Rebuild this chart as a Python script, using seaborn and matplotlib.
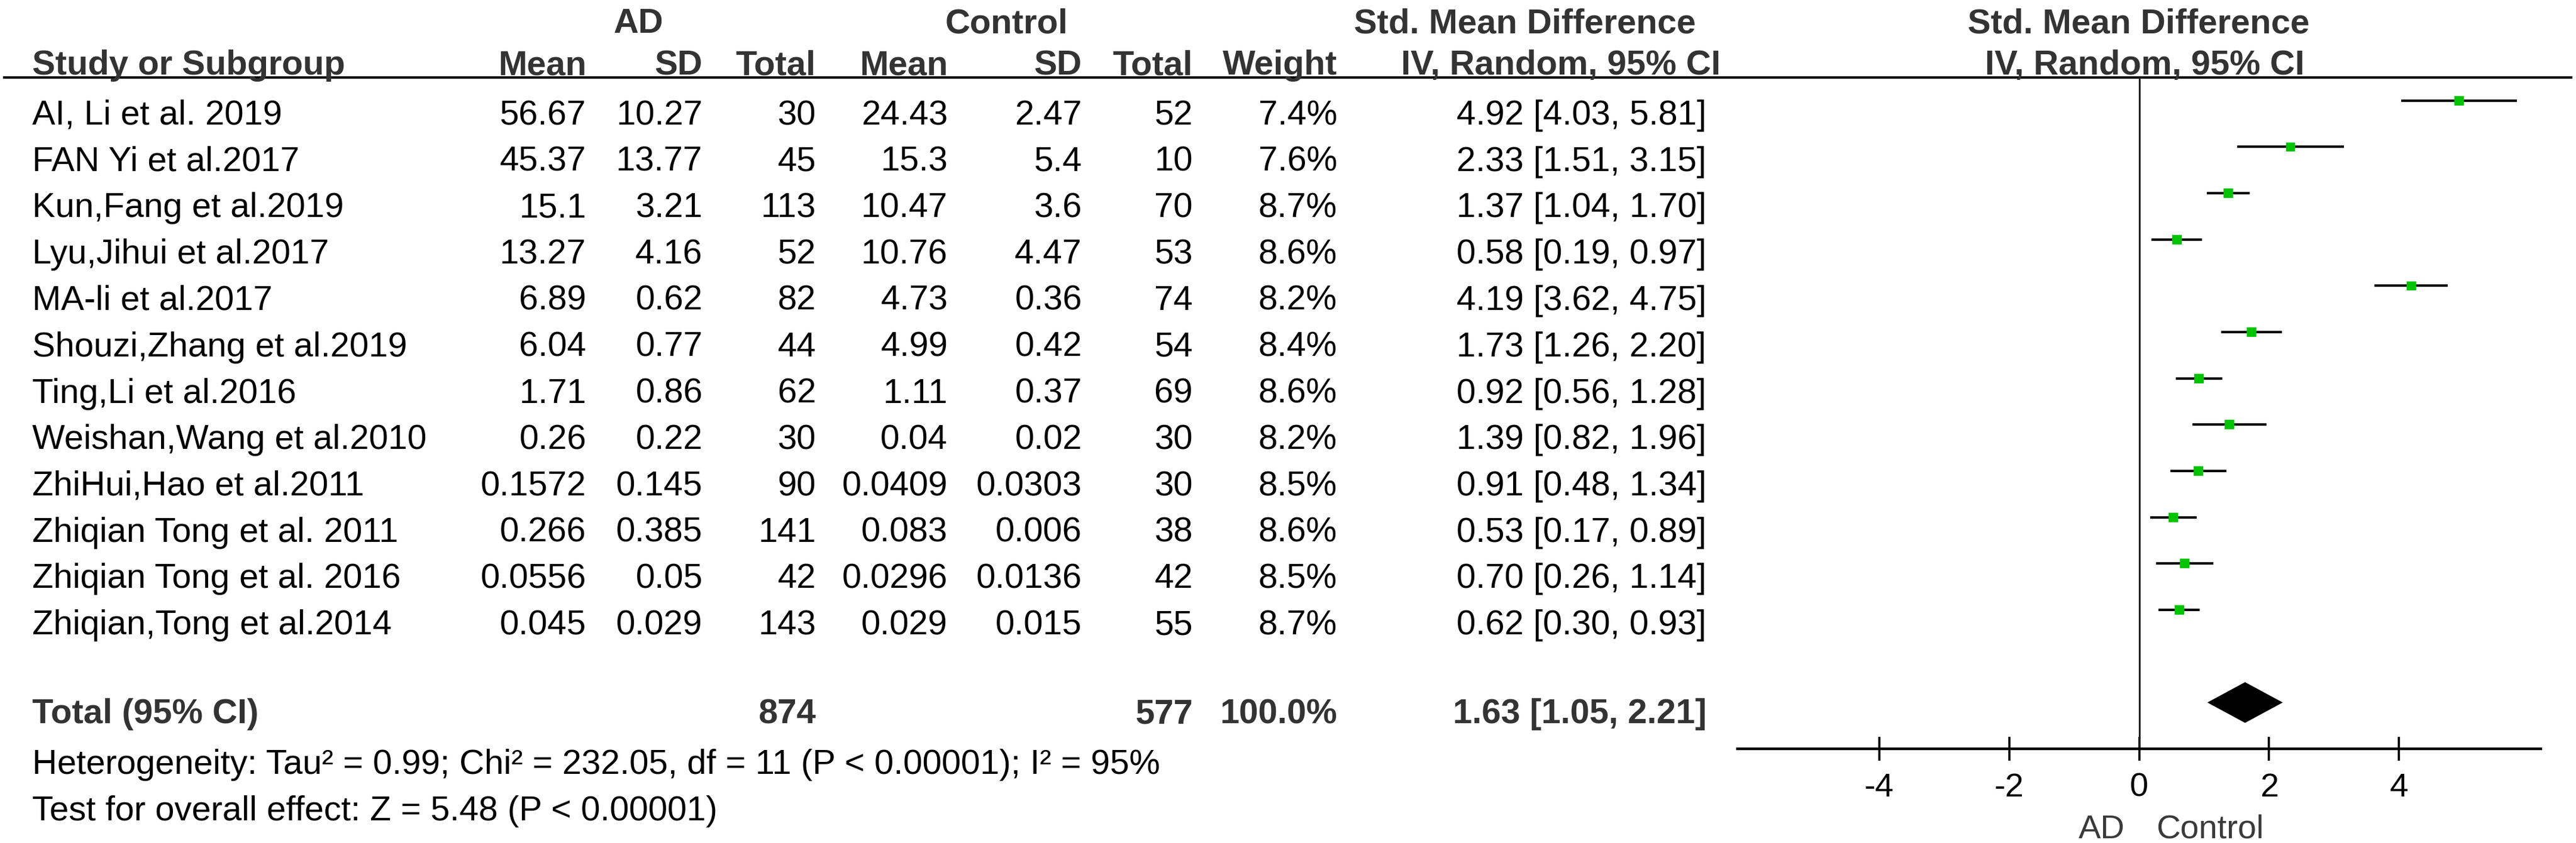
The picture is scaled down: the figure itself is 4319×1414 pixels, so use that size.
"""
Forest plot: standardised mean difference, AD vs Control.
"""
import matplotlib

matplotlib.use("Agg")
import matplotlib.pyplot as plt
import matplotlib.transforms as mtransforms
import pandas as pd
import seaborn as sns

# Data
STUDIES = [
    "AI, Li et al. 2019",
    "FAN Yi et al.2017",
    "Kun,Fang et al.2019",
    "Lyu,Jihui et al.2017",
    "MA-li et al.2017",
    "Shouzi,Zhang et al.2019",
    "Ting,Li et al.2016",
    "Weishan,Wang et al.2010",
    "ZhiHui,Hao et al.2011",
    "Zhiqian Tong et al. 2011",
    "Zhiqian Tong et al. 2016",
    "Zhiqian,Tong et al.2014",
]
AD_MEAN = [56.67, 45.37, 15.1, 13.27, 6.89, 6.04, 1.71, 0.26, 0.1572, 0.266,
           0.0556, 0.045]
AD_SD = [10.27, 13.77, 3.21, 4.16, 0.62, 0.77, 0.86, 0.22, 0.145, 0.385,
         0.05, 0.029]
AD_N = [30, 45, 113, 52, 82, 44, 62, 30, 90, 141, 42, 143]
CTL_MEAN = [24.43, 15.3, 10.47, 10.76, 4.73, 4.99, 1.11, 0.04, 0.0409, 0.083,
            0.0296, 0.029]
CTL_SD = [2.47, 5.4, 3.6, 4.47, 0.36, 0.42, 0.37, 0.02, 0.0303, 0.006,
          0.0136, 0.015]
CTL_N = [52, 10, 70, 53, 74, 54, 69, 30, 30, 38, 42, 55]
WEIGHT = [7.4, 7.6, 8.7, 8.6, 8.2, 8.4, 8.6, 8.2, 8.5, 8.6, 8.5, 8.7]
SMD = [4.92, 2.33, 1.37, 0.58, 4.19, 1.73, 0.92, 1.39, 0.91, 0.53, 0.70, 0.62]
CI_LO = [4.03, 1.51, 1.04, 0.19, 3.62, 1.26, 0.56, 0.82, 0.48, 0.17, 0.26,
         0.30]
CI_HI = [5.81, 3.15, 1.70, 0.97, 4.75, 2.20, 1.28, 1.96, 1.34, 0.89, 1.14,
         0.93]
TOTAL_WEIGHT = 100.0
POOLED = [1.63, 1.05, 2.21]
TICKS = [-4, -2, 0, 2, 4]
HETEROGENEITY = (
    "Heterogeneity: Tau\u00b2 = 0.99; Chi\u00b2 = 232.05, df = 11"
    " (P < 0.00001); I\u00b2 = 95%"
)
OVERALL = "Test for overall effect: Z = 5.48 (P < 0.00001)"

data = pd.DataFrame(
    {
        "study": STUDIES,
        "row": range(len(STUDIES)),
        "smd": SMD,
        "lo": CI_LO,
        "hi": CI_HI,
    }
)
total_row = len(STUDIES) + 1

# Layout (pixels)
W, H, DPI = 4319, 1414, 100
FS = 41.8
ROW0, ROW_H = 209, 77.75
HEAD = "#333333"

sns.set_theme(style="white")
plt.rcParams["font.family"] = ["Liberation Sans", "DejaVu Sans"]

fig = plt.figure(figsize=(W / DPI, H / DPI), dpi=DPI)
bg = fig.add_axes([0, 0, 1, 1])
bg.set_xlim(0, W)
bg.set_ylim(H, 0)
bg.axis("off")


def txt(x, y, s, ha="right", bold=False, color="black"):
    bg.text(
        x, y, s, ha=ha, va="baseline", fontsize=FS, color=color,
        fontweight="bold" if bold else "normal",
    )


# Header
for x, s in [(1070, "AD"), (1688, "Control"), (2557, "Std. Mean Difference"),
             (3586, "Std. Mean Difference")]:
    txt(x, 55, s, ha="center", bold=True, color=HEAD)
txt(54, 125, "Study or Subgroup", ha="left", bold=True, color=HEAD)
for x, s in [(983, "Mean"), (1178, "SD"), (1368, "Total"), (1589, "Mean"),
             (1814, "SD"), (2000, "Total"), (2242, "Weight")]:
    txt(x, 125, s, bold=True, color=HEAD)
txt(2617, 125, "IV, Random, 95% CI", ha="center", bold=True, color=HEAD)
txt(3596, 125, "IV, Random, 95% CI", ha="center", bold=True, color=HEAD)
bg.plot([5, 4313], [130, 130], color="black", lw=3.0, solid_capstyle="butt")

# Study rows
cols = [(983, AD_MEAN), (1178, AD_SD), (1368, AD_N), (1589, CTL_MEAN),
        (1814, CTL_SD), (2000, CTL_N)]
for i, name in enumerate(STUDIES):
    y = ROW0 + ROW_H * i
    txt(54, y, name, ha="left")
    for x, vals in cols:
        txt(x, y, f"{vals[i]}")
    txt(2242, y, f"{WEIGHT[i]:.1f}%")
    txt(2861, y, f"{SMD[i]:.2f} [{CI_LO[i]:.2f}, {CI_HI[i]:.2f}]")

# Total row and footer
y = 1213
txt(54, y, "Total (95% CI)", ha="left", bold=True, color=HEAD)
txt(1368, y, f"{sum(AD_N)}", bold=True, color=HEAD)
txt(2000, y, f"{sum(CTL_N)}", bold=True, color=HEAD)
txt(2242, y, f"{TOTAL_WEIGHT:.1f}%", bold=True, color=HEAD)
txt(2861, y, f"{POOLED[0]:.2f} [{POOLED[1]:.2f}, {POOLED[2]:.2f}]",
    bold=True, color=HEAD)
txt(54, 1298, HETEROGENEITY, ha="left")
txt(54, 1376, OVERALL, ha="left")

# Forest panel
left, right, top, bottom = 2913, 4260, 130, 1256
ax = fig.add_axes(
    [left / W, 1 - bottom / H, (right - left) / W, (bottom - top) / H]
)
ax.set_xlim(-6.18, 6.18)
ax.set_ylim(total_row + 1, -0.5)
ax.patch.set_alpha(0)
for side in ["top", "right", "left"]:
    ax.spines[side].set_visible(False)
ax.spines["bottom"].set_linewidth(3.2)
ax.spines["bottom"].set_color("black")
ax.axvline(0, color="#222222", lw=2.2, zorder=1)

ax.hlines(data["row"], data["lo"], data["hi"], color="black", lw=3.0,
          zorder=2)
sns.scatterplot(
    data=data, x="smd", y="row", marker="s", s=130, color="#00c400",
    edgecolor="none", linewidth=0, ax=ax, zorder=3, legend=False,
)
est, lo, hi = POOLED
ax.fill(
    [lo, est, hi, est], [total_row, total_row - 0.44, total_row,
                         total_row + 0.44],
    color="black", lw=0, zorder=3,
)

ax.set_xticks(TICKS)
ax.set_xticklabels([str(t) for t in TICKS])
ax.set_yticks([])
ax.tick_params(axis="x", direction="inout", length=29, width=2.6,
               color="black", labelsize=40.3, pad=14, labelcolor="black",
               bottom=True)
ax.set_xlabel("")
ax.set_ylabel("")

# Direction labels under the axis
trans = mtransforms.blended_transform_factory(ax.transData, bg.transData)
ax.text(-0.22, 1406, "AD", ha="right", va="baseline", fontsize=40.3,
        color="#3a3a3a", transform=trans)
ax.text(0.26, 1406, "Control", ha="left", va="baseline", fontsize=40.3,
        color="#3a3a3a", transform=trans)

fig.savefig("out.png", dpi=DPI, facecolor="white")
